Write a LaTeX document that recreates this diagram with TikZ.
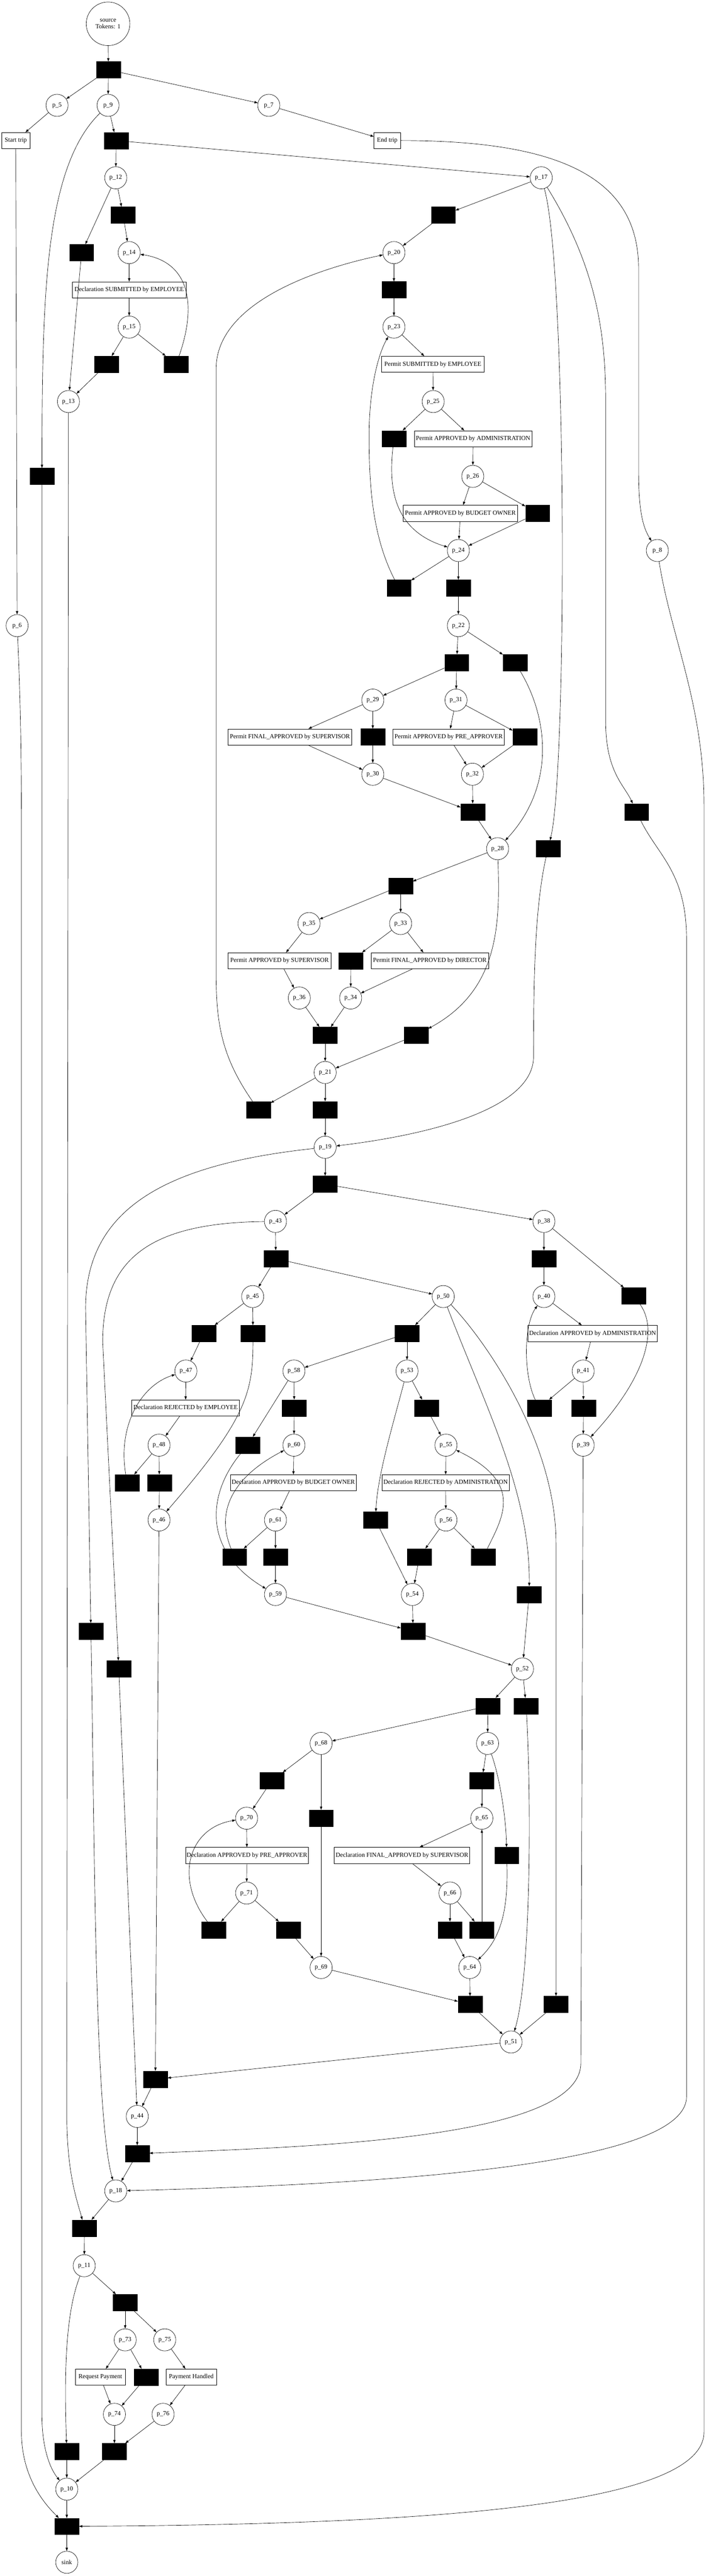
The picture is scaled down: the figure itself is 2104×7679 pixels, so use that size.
\documentclass[tikz,border=0pt]{standalone}
\usepackage{fontspec}
\setmainfont{Liberation Serif}
\usepackage{tikz}
\usetikzlibrary{arrows.meta}

\tikzset{
    placenode/.style={draw, circle, line width=0.75pt, minimum size=49.5pt, inner sep=0pt,
        font=\fontsize{14}{16}\selectfont},
    blacktrans/.style={draw, fill=black, minimum width=54pt, minimum height=36.75pt, inner sep=0pt},
    labtrans/.style={draw, fill=white, line width=0.75pt, minimum width=#1*0.75pt,
        minimum height=36pt, inner sep=1pt, font=\fontsize{14}{16}\selectfont},
    edgeto/.style={line width=0.75pt, -{Triangle[length=7.5pt,width=5.25pt]}},
}

\begin{document}
\begin{tikzpicture}[x=0.75pt, y=-0.75pt]
    \useasboundingbox (0,0) rectangle (2104,7679);

    % source and sink
    \node[placenode, minimum size=97.5pt, align=center] (source) at (322,71) {source\\Tokens: 1};
    \node[placenode] (sink) at (199,7638) {sink};

    % places
    \foreach \n/\x/\y in {
        5/170/314, 9/322/314, 7/801/314,
        12/345/530, 17/1613/530,
        14/385/753, 20/1174/753,
        15/385/975, 23/1174/975,
        13/204/1197, 25/1291/1197,
        26/1409/1420,
        24/1366/1641, 8/1959/1641,
        6/51/1865, 22/1366/1865,
        29/1111/2087, 31/1359/2087,
        30/1111/2308, 32/1408/2308,
        28/1483/2530,
        35/921/2753, 33/1194/2753,
        36/892/2975, 34/1045/2975,
        21/969/3197, 19/969/3420,
        43/821/3641, 38/1621/3641,
        45/753/3865, 50/1321/3865, 40/1621/3865,
        47/554/4087, 58/876/4087, 53/1213/4087, 41/1738/4087,
        48/474/4308, 60/876/4308, 55/1329/4308, 39/1738/4308,
        46/474/4531, 61/821/4531, 56/1329/4531,
        59/821/4753, 54/1229/4753,
        52/1557/4975,
        68/957/5197, 63/1453/5197,
        70/735/5420, 65/1436/5420,
        71/735/5643, 66/1341/5643,
        69/957/5865, 64/1400/5865,
        51/1523/6087, 44/409/6309, 18/345/6531, 11/251/6754,
        73/373/6975, 75/491/6975,
        74/341/7197, 76/486/7197,
        10/199/7420}
    {
        \node[placenode] (p\n) at (\x,\y) {p\_\n};
    }

    % silent transitions
    \foreach \n/\x/\y in {
        0/323/208, 1/346/419, 2/367/641, 3/1321/641, 4/243/753,
        5/1174/864, 6/318/1086, 7/525/1086, 8/1174/1308, 9/125/1420,
        10/1602/1530, 11/1189/1753, 12/1366/1753, 13/1361/1975, 14/1535/1975,
        15/1111/2197, 16/1564/2197, 17/1409/2420, 18/1897/2420, 19/1633/2530,
        20/1194/2641, 21/1046/2864, 22/969/3086, 23/1240/3086,
        24/770/3308, 25/969/3308, 26/969/3530,
        27/822/3752, 28/1621/3752, 29/1889/3863,
        30/607/3975, 31/754/3975, 32/1213/3975,
        33/877/4197, 34/1271/4197, 35/1607/4197, 36/1739/4197,
        37/738/4308, 38/379/4420, 39/475/4420, 40/1119/4531,
        41/699/4641, 42/821/4641, 43/1250/4641, 44/1440/4641,
        45/1577/4753, 46/271/4863, 47/1231/4863, 48/354/4975,
        49/1454/5086, 50/1568/5086, 51/810/5308, 52/1436/5308,
        53/957/5420, 54/1510/5531,
        55/637/5753, 56/859/5753, 57/1341/5753, 58/1436/5753,
        59/1401/5975, 60/1657/5975, 61/463/6198, 62/409/6420,
        63/252/6642, 64/373/6864, 65/436/7086,
        66/199/7308, 67/341/7308, 68/199/7531}
    {
        \node[blacktrans] (t\n) at (\x,\y) {};
    }

    % labelled transitions
    \foreach \n/\w/\x/\y/\txt in {
        start/85/47/419/Start trip,
        end/79/1154/419/End trip,
        declsub/339/385/864/Declaration SUBMITTED by EMPLOYEE,
        permsub/305/1290/1086/Permit SUBMITTED by EMPLOYEE,
        permadm/351/1410/1308/Permit APPROVED by ADMINISTRATION,
        permbud/342/1372/1530/Permit APPROVED by BUDGET OWNER,
        permfinsup/369/864/2197/Permit FINAL\_APPROVED by SUPERVISOR,
        permpre/331/1337/2197/Permit APPROVED by PRE\_APPROVER,
        permsup/306/833/2864/Permit APPROVED by SUPERVISOR,
        permfindir/350/1281/2864/Permit FINAL\_APPROVED by DIRECTOR,
        declappadm/385/1766/3975/Declaration APPROVED by ADMINISTRATION,
        declrejemp/321/553/4197/Declaration REJECTED by EMPLOYEE,
        declappbud/375/874/4420/Declaration APPROVED by BUDGET OWNER,
        declrejadm/380/1328/4420/Declaration REJECTED by ADMINISTRATION,
        declapppre/366/736/5531/Declaration APPROVED by PRE\_APPROVER,
        declfinsup/404/1198/5531/Declaration FINAL\_APPROVED by SUPERVISOR,
        reqpay/148/299/7086/Request Payment,
        payhand/150/570/7086/Payment Handled}
    {
        \node[labtrans=\w] (\n) at (\x,\y) {\txt};
    }

    % straight arcs
    \foreach \a/\b in {
        source/t0, t0/p5, t0/p9, t0/p7, p5/start, p7/end, start/p6,
        p9/t1, t1/p12, t1/p17, p12/t2, p12/t4, t2/p14, p17/t3, t3/p20,
        t4/p13, p14/declsub, declsub/p15, p15/t6, p15/t7, t6/p13,
        p20/t5, t5/p23, p23/permsub, permsub/p25, p25/t8, p25/permadm,
        permadm/p26, p26/permbud, p26/t10, permbud/p24, t10/p24,
        p24/t11, p24/t12, t12/p22, p22/t13, p22/t14, t13/p29, t13/p31,
        p29/permfinsup, p29/t15, p31/permpre, p31/t16,
        permfinsup/p30, t15/p30, permpre/p32, t16/p32,
        p30/t17, p32/t17, t17/p28, p28/t20, t20/p35, t20/p33,
        p35/permsup, p33/t21, p33/permfindir,
        permsup/p36, t21/p34, permfindir/p34, p36/t22, p34/t22,
        t22/p21, t23/p21, p21/t24, p21/t25, t25/p19, p19/t26,
        t26/p43, t26/p38, p43/t27, p38/t28, p38/t29, t27/p45, t27/p50,
        t28/p40, p45/t30, p45/t31, p50/t32, p40/declappadm, t30/p47,
        t32/p58, t32/p53, declappadm/p41, p47/declrejemp,
        p58/t33, p58/t37, p53/t34, p41/t35, p41/t36, declrejemp/p48,
        t33/p60, t34/p55, t36/p39, p48/t38, p48/t39,
        p60/declappbud, p55/declrejadm, t39/p46, declappbud/p61,
        declrejadm/p56, p61/t41, p61/t42, p56/t43, p56/t44,
        t42/p59, t43/p54, t40/p54, p59/t47, p54/t47, t47/p52, t45/p52,
        p52/t49, p52/t50, t49/p68, t49/p63, p68/t51, p68/t53, p63/t52,
        t51/p70, t52/p65, t53/p69, p70/declapppre, p65/declfinsup,
        declapppre/p71, declfinsup/p66, p71/t55, p71/t56, p66/t57,
        p66/t58, t56/p69, t57/p64, t58/p65, p69/t59, p64/t59,
        t59/p51, t60/p51, p46/t61, p51/t61, t61/p44, t48/p44,
        p44/t62, t62/p18, p18/t63, t63/p11, p11/t64, t64/p73, t64/p75,
        p73/reqpay, p73/t65, p75/payhand, reqpay/p74, t65/p74,
        payhand/p76, p74/t67, p76/t67, t66/p10, t67/p10, p10/t68,
        t68/sink}
    {
        \draw[edgeto] (\a) -- (\b);
    }

    % curved arcs, top part
    \draw[edgeto] (p9) .. controls (130,500) and (126,900) .. (t9);
    \draw[edgeto] (end.east) .. controls (1650,419) and (1903,520) .. (1903,800)
        -- (1903,1400) .. controls (1903,1520) and (1915,1570) .. (p8);
    \draw[edgeto] (p17) .. controls (1690,800) and (1690,2300) .. (t19);
    \draw[edgeto] (p17) .. controls (1780,800) and (1805,1000) .. (1805,1200)
        -- (1805,2150) .. controls (1805,2300) and (1860,2340) .. (t18);
    \draw[edgeto] (t7) .. controls (590,900) and (560,780) .. (p14);
    \draw[edgeto] (t8) .. controls (1158,1450) and (1170,1580) .. (p24);
    \draw[edgeto] (t11) .. controls (1110,1600) and (1100,1450) .. (1100,1300)
        .. controls (1100,1150) and (1130,1050) .. (p23);
    \draw[edgeto] (t14) .. controls (1640,2150) and (1650,2350) .. (p28);
    \draw[edgeto] (p28) .. controls (1490,2750) and (1490,2950) .. (t23);
    \draw[edgeto] (t19) .. controls (1595,2700) and (1590,2900) .. (1590,3150)
        .. controls (1590,3300) and (1300,3380) .. (p19);
    \draw[edgeto] (t24) .. controls (660,3150) and (644,3050) .. (644,2900)
        -- (644,1100) .. controls (644,900) and (950,800) .. (p20);

    % curved arcs, middle part
    \draw[edgeto] (p19) .. controls (500,3470) and (255,3600) .. (255,3900) -- (t46);
    \draw[edgeto] (p43) .. controls (450,3645) and (306,3750) .. (306,4000) -- (t48);
    \draw[edgeto] (t31) .. controls (754,4150) and (735,4230) .. (p46);
    \draw[edgeto] (t38) .. controls (350,4250) and (420,4130) .. (p47);
    \draw[edgeto] (t37) .. controls (620,4450) and (600,4620) .. (p59);
    \draw[edgeto] (t41) .. controls (640,4500) and (700,4400) .. (p60);
    \draw[edgeto] (t44) .. controls (1500,4520) and (1560,4420) .. (p55);
    \draw[edgeto] (p53) .. controls (1170,4250) and (1125,4400) .. (t40);
    \draw[edgeto] (p50) .. controls (1450,4200) and (1580,4450) .. (t45);
    \draw[edgeto] (p50) .. controls (1450,4000) and (1657,4300) .. (1657,4600) -- (t60);
    \draw[edgeto] (t29) .. controls (1960,3960) and (1930,4100) .. (p39);
    \draw[edgeto] (t35) .. controls (1560,4100) and (1560,3950) .. (p40);

    % curved arcs, lower part
    \draw[edgeto] (t50) .. controls (1585,5400) and (1580,5900) .. (p51);
    \draw[edgeto] (p63) .. controls (1490,5300) and (1508,5420) .. (t54);
    \draw[edgeto] (t54) .. controls (1515,5700) and (1490,5780) .. (p64);
    \draw[edgeto] (t55) .. controls (520,5600) and (560,5450) .. (p70);
    \draw[edgeto] (p39) -- (1731,6150) .. controls (1731,6380) and (900,6400) .. (t62);
    \draw[edgeto] (t46) .. controls (282,5500) and (282,6300) .. (p18);
    \draw[edgeto] (t18) .. controls (1960,2550) and (2046,2600) .. (2046,2800)
        -- (2046,6250) .. controls (2046,6450) and (1200,6510) .. (p18);
    \draw[edgeto] (p13) -- (199,6300) .. controls (199,6480) and (230,6560) .. (t63);
    \draw[edgeto] (p11) .. controls (192,6900) and (192,7100) .. (t66);
    \draw[edgeto] (t9) -- (125,7200) .. controls (125,7300) and (150,7360) .. (p10);
    \draw[edgeto] (p6) .. controls (62,2100) and (64,2300) .. (64,2500)
        -- (64,7250) .. controls (64,7400) and (150,7480) .. (t68);
    \draw[edgeto] (p8) .. controls (2000,1900) and (2098,2100) .. (2098,2400)
        -- (2098,7250) .. controls (2098,7480) and (1200,7525) .. (t68);
\end{tikzpicture}
\end{document}
